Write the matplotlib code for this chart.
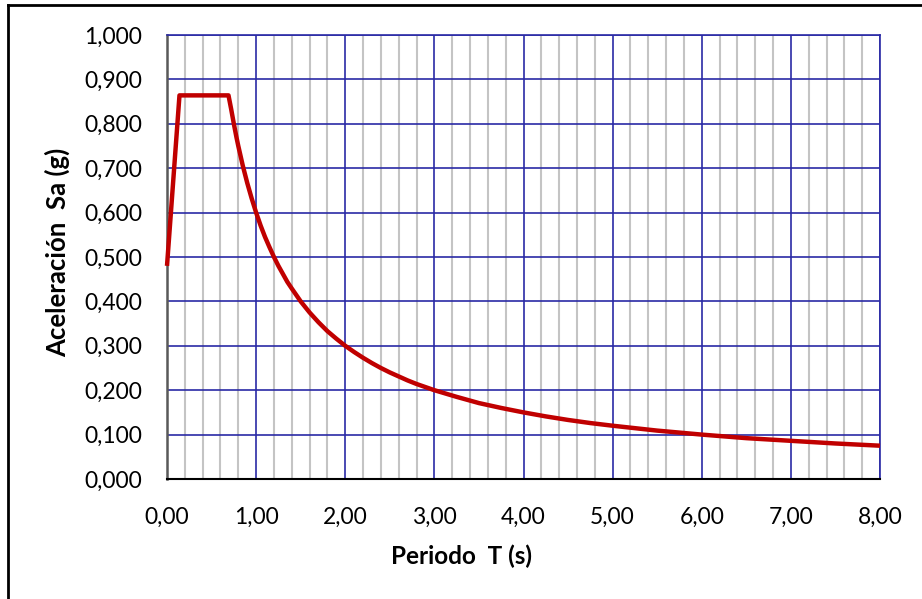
import matplotlib
matplotlib.use("Agg")
import matplotlib.pyplot as plt
from matplotlib.lines import Line2D
from matplotlib.ticker import FixedLocator, FuncFormatter

plt.rcParams['font.family'] = ['Lato', 'DejaVu Sans']

# Spectrum points
periods = [0.0, 0.14, 0.69, 0.72, 0.75, 0.78, 0.80, 0.85, 0.90, 0.95, 1.00, 1.05, 1.10,
           1.15, 1.20, 1.25, 1.30, 1.35, 1.40, 1.50, 1.60, 1.70, 1.80, 1.90, 2.00,
           2.10, 2.20, 2.30, 2.40, 2.50, 2.60, 2.70, 2.80, 2.90, 3.00, 3.25, 3.50,
           3.75, 4.00, 4.25, 4.50, 4.75, 5.00, 5.50, 6.00, 6.50, 7.00, 7.50, 8.00]
sa = [0.480, 0.864, 0.864, 0.833, 0.800, 0.769, 0.750, 0.706, 0.667, 0.632, 0.600, 0.571, 0.545,
      0.522, 0.500, 0.480, 0.462, 0.444, 0.429, 0.400, 0.375, 0.353, 0.333, 0.316, 0.300,
      0.286, 0.273, 0.261, 0.250, 0.240, 0.231, 0.222, 0.214, 0.207, 0.200, 0.185, 0.171,
      0.160, 0.150, 0.141, 0.133, 0.126, 0.120, 0.109, 0.100, 0.092, 0.086, 0.080, 0.075]

x_ticks = [0, 1, 2, 3, 4, 5, 6, 7, 8]
y_ticks = [0.0, 0.1, 0.2, 0.3, 0.4, 0.5, 0.6, 0.7, 0.8, 0.9, 1.0]
x_minor = [i * 0.2 for i in range(41)]

xlabel = "Periodo  T (s)"
ylabel = "Aceleración  Sa (g)"

W, H = 922, 599
fig = plt.figure(figsize=(W / 100, H / 100), dpi=100)
ax = fig.add_axes([167 / W, 1 - 479 / H, (880 - 167) / W, (479 - 35) / H])

ax.set_xlim(0, 8)
ax.set_ylim(0, 1.0)

ax.xaxis.set_major_locator(FixedLocator(x_ticks))
ax.yaxis.set_major_locator(FixedLocator(y_ticks))
ax.xaxis.set_minor_locator(FixedLocator(x_minor))

ax.grid(which='minor', axis='x', color='#c4c4c4', linewidth=1.5, zorder=0)
ax.grid(which='major', axis='both', color='#2a2aa5', linewidth=1.2, zorder=1)

ax.plot(periods, sa, color='#c00000', linewidth=3.2, zorder=3, clip_on=False,
        solid_capstyle='butt', solid_joinstyle='round')

ax.xaxis.set_major_formatter(FuncFormatter(lambda v, p: f"{v:.2f}".replace('.', ',')))
ax.yaxis.set_major_formatter(FuncFormatter(lambda v, p: f"{v:.3f}".replace('.', ',')))
ax.tick_params(which='both', length=0, labelsize=16.5, colors='black')
ax.tick_params(axis='x', pad=20)
ax.tick_params(axis='y', pad=18)

for s in ['top', 'right']:
    ax.spines[s].set_color('#2a2aa5')
    ax.spines[s].set_linewidth(1.2)
ax.spines['left'].set_color('#595959')
ax.spines['left'].set_linewidth(1.8)
ax.spines['bottom'].set_color('black')
ax.spines['bottom'].set_linewidth(1.5)

fig.text(461 / W, 1 - 556 / H, xlabel, fontsize=17.5, fontweight='bold',
         ha='center', va='center')
fig.text(57 / W, 1 - 252 / H, ylabel, fontsize=18.5, fontweight='bold',
         ha='center', va='center', rotation=90)

# Outer chart border (top and left visible)
fig.add_artist(Line2D([8 / W, 1.0], [1 - 5 / H, 1 - 5 / H], color='black', linewidth=2,
                      transform=fig.transFigure))
fig.add_artist(Line2D([8 / W, 8 / W], [0, 1 - 5 / H], color='black', linewidth=2,
                      transform=fig.transFigure))

fig.savefig("out.png", dpi=100)
